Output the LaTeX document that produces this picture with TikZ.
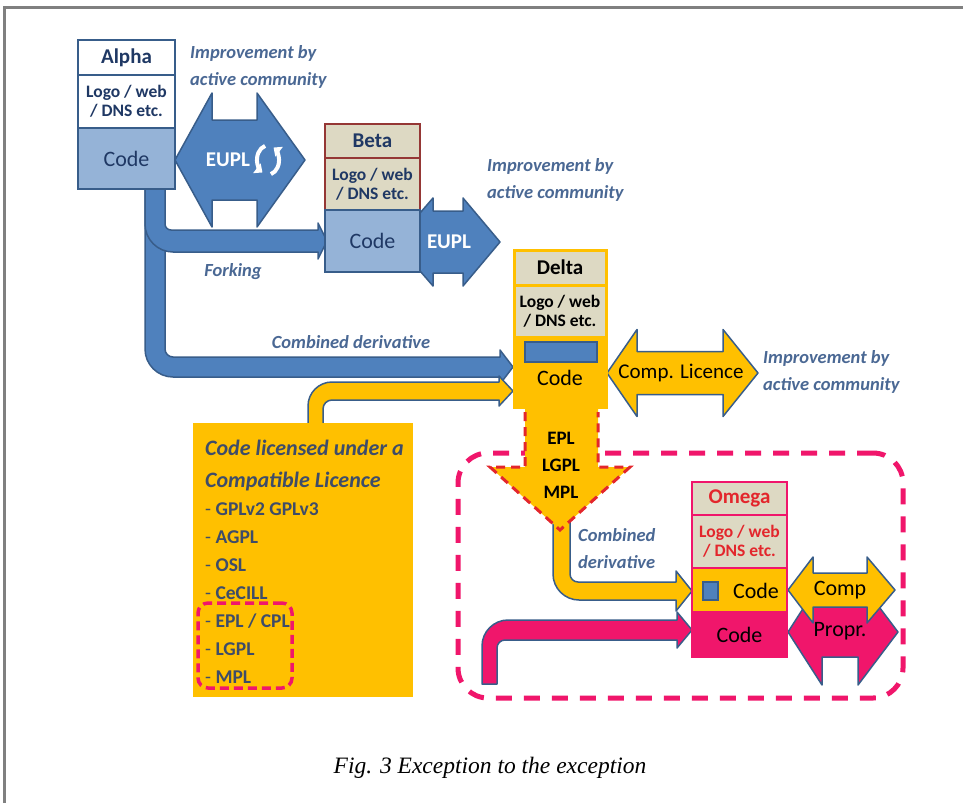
\documentclass[tikz,border=0pt]{standalone}
\usepackage{fontspec}
\setmainfont{Carlito}
\newfontfamily\capfont{Liberation Serif}
\usetikzlibrary{arrows.meta}
\definecolor{bfill}{HTML}{4F81BD}
\definecolor{bline}{HTML}{385D8A}
\definecolor{lblue}{HTML}{95B3D7}
\definecolor{tanc}{HTML}{DDD9C3}
\definecolor{gold}{HTML}{FFC000}
\definecolor{pinkc}{HTML}{F0166B}
\definecolor{redd}{HTML}{E3262C}
\definecolor{dred}{HTML}{953735}
\definecolor{dblue}{HTML}{1F3864}
\definecolor{imprc}{HTML}{4A6894}
\definecolor{slate}{HTML}{3E4C69}
\definecolor{framec}{HTML}{808080}
% #1 style, #2 left tip, #3 left head base, #4 right head base, #5 right tip, #6 centre y, #7 shaft half, #8 head half
\newcommand\dblarr[8][]{%
 \filldraw[#1] (#2,#6) -- (#3,{#6-#8}) -- (#3,{#6-#7}) -- (#4,{#6-#7}) -- (#4,{#6-#8}) -- (#5,#6)
   -- (#4,{#6+#8}) -- (#4,{#6+#7}) -- (#3,{#6+#7}) -- (#3,{#6+#8}) -- cycle;}
\begin{document}
\begin{tikzpicture}[x=1pt,y=-1pt,
  cell/.style={draw, line width=2pt, inner sep=0pt, outer sep=0pt, anchor=north west, align=center},
  ttl/.style={font=\fontsize{21}{24}\selectfont\bfseries},
  logo/.style={font=\fontsize{17.5}{19}\selectfont\bfseries},
  codet/.style={font=\fontsize{22}{26}\selectfont},
  imprt/.style={font=\fontsize{18.5}{27}\selectfont\bfseries\itshape, text=imprc, align=left, inner sep=0pt},
  barrow/.style={fill=bfill, draw=bline, line width=1.5pt, line join=round},
  oarrow/.style={fill=gold, draw=bline, line width=1.5pt, line join=round},
  parrow/.style={fill=pinkc, draw=bline, line width=1.5pt, line join=round},
  lst/.style={font=\fontsize{19.5}{24}\selectfont\bfseries, text=slate, anchor=base west, inner sep=0pt},
  lsttl/.style={font=\fontsize{22}{26}\selectfont\bfseries\itshape, text=slate, anchor=base west, inner sep=0pt},
  lbl/.style={inner sep=0pt},
  cyc/.style={white, line width=4pt, -{Triangle[length=7pt,width=12pt]}},
]
\useasboundingbox (0,0) rectangle (963,803);
\fill[white] (0,0) rectangle (963,803);
% frame
\draw[framec, line width=3pt] (4.5,803) -- (4.5,7) -- (963,7);

% big pink dashed group
\node (grp) [draw=pinkc, line width=5pt, dash pattern=on 16pt off 12pt, rounded corners=30pt,
  minimum width=445pt, minimum height=245pt, inner sep=0pt] at (680.5,575.5) {};

% blue bent arrows
\filldraw[barrow] (145,186) -- (145,349) .. controls (145,364.4) and (157.6,377) .. (173,377) -- (500,377) -- (500,384)
  -- (513,367) -- (500,350) -- (500,357) -- (173,357) .. controls (168.6,357) and (165,353.4) .. (165,349) -- (165,186) -- cycle;
\filldraw[barrow] (145,186) -- (145,224) .. controls (145,239.4) and (157.6,252) .. (173,252) -- (318,252) -- (318,259)
  -- (327,241) -- (318,223) -- (318,230) -- (171,230) .. controls (167.7,230) and (165,227.3) .. (165,224) -- (165,186) -- cycle;

% EUPL double arrows
\dblarr[barrow]{175}{212}{257}{305}{160}{40}{67}
\dblarr[barrow]{395}{433}{463}{500}{242}{31}{44}

% orange arrow from licence box to Delta
\filldraw[oarrow] (308,426) -- (308,406) .. controls (308,392.8) and (318.8,382) .. (332,382) -- (499,382) -- (499,376)
  -- (513,391) -- (499,406) -- (499,400) -- (332,400) .. controls (327,400) and (323,404) .. (323,409) -- (323,426) -- cycle;
\node (lic) [fill=gold, inner sep=0pt, anchor=north west, minimum width=220pt, minimum height=274pt] at (193,423) {};

% Comp. Licence double arrow
\dblarr[oarrow]{607}{637}{723}{758}{373}{21.5}{43.5}

% orange arrow to Omega
\filldraw[oarrow] (553,512) -- (553,574) .. controls (553,588.3) and (564.7,600) .. (579,600) -- (676,600) -- (676,611)
  -- (692,591) -- (676,571) -- (676,582) -- (578,582) .. controls (573.6,582) and (570,578.4) .. (570,574) -- (570,512) -- cycle;

% down arrow EPL
\fill[gold] (525,405) -- (525,467) -- (490,467) -- (560,530) -- (630,467) -- (598,467) -- (598,405) -- cycle;
\draw[redd, line width=3pt, dash pattern=on 9pt off 6pt] (525,412) -- (525,467) -- (490,467) -- (560,530) -- (630,467) -- (598,467) -- (598,412);

% pink arrow to Omega
\filldraw[parrow] (482,684) -- (482,646) .. controls (482,631.7) and (493.7,620) .. (508,620) -- (677,620) -- (677,612)
  -- (692,630) -- (677,648) -- (677,640) -- (505,640) .. controls (500.6,640) and (497,643.6) .. (497,648) -- (497,684) -- cycle;

% Propr. and Comp double arrows
\dblarr[parrow]{788}{822}{858}{898}{632}{25}{53}
\dblarr[oarrow]{788}{813}{867}{895}{590}{17}{33}

% Alpha
\node (alphaT) [cell, draw=bline, fill=white, minimum width=97pt, minimum height=35pt, ttl, text=dblue] at (78,40) {Alpha};
\node (alphaL) [cell, draw=bline, fill=white, minimum width=97pt, minimum height=53pt, logo, text=dblue] at (78,75) {Logo / web\\/ DNS etc.};
\node (alphaC) [cell, draw=bline, fill=lblue, minimum width=97pt, minimum height=61pt, codet, text=dblue] at (78,128) {Code};

% Beta
\node (betaT) [cell, draw=dred, fill=tanc, minimum width=95pt, minimum height=34pt, ttl, text=dblue] at (325,124) {Beta};
\node (betaL) [cell, draw=dred, fill=tanc, minimum width=95pt, minimum height=52pt, logo, text=dblue] at (325,158) {Logo / web\\/ DNS etc.};
\node (betaC) [cell, draw=bline, fill=lblue, minimum width=95pt, minimum height=62pt, codet, text=dblue] at (325,210) {Code};

% Delta
\node (deltaT) [cell, draw=gold, line width=3pt, fill=tanc, minimum width=92pt, minimum height=35pt, ttl] at (514,250) {Delta};
\node (deltaL) [cell, draw=gold, line width=3pt, fill=tanc, minimum width=92pt, minimum height=52pt, logo] at (514,285) {Logo / web\\/ DNS etc.};
\node (deltaC) [cell, draw=gold, line width=3pt, fill=gold, minimum width=92pt, minimum height=70pt] at (514,337) {};
\node (deltaB) [cell, draw=bline, line width=1.5pt, fill=bfill, minimum width=72pt, minimum height=20pt] at (525,342) {};
\node (deltaCode) [lbl, codet] at (560,378) {Code};

% Omega
\node (omegaT) [cell, draw=pinkc, fill=tanc, minimum width=95pt, minimum height=33pt, ttl, text=redd] at (692,482) {Omega};
\node (omegaL) [cell, draw=pinkc, fill=tanc, minimum width=95pt, minimum height=53pt, logo, text=redd] at (692,515) {Logo / web\\/ DNS etc.};
\node (omegaC) [cell, draw=pinkc, fill=gold, minimum width=95pt, minimum height=44pt] at (692,568) {};
\node (omegaP) [cell, draw=pinkc, fill=pinkc, minimum width=95pt, minimum height=45pt, codet] at (692,612) {Code};
\node (omegaB) [cell, draw=bline, line width=1.5pt, fill=bfill, minimum width=15pt, minimum height=18pt] at (703,582) {};
\node (omegaCode) [lbl, codet] at (756,591) {Code};

% arrow labels
\node (eupla) [lbl, font=\fontsize{21}{24}\selectfont\bfseries, text=white] at (228,160) {EUPL};
\draw[cyc] (265.1,145.9) arc[start angle=105, end angle=240, x radius=11pt, y radius=14.5pt];
\draw[cyc] (270.9,174.1) arc[start angle=-75, end angle=60, x radius=11pt, y radius=14.5pt];
\node (euplb) [lbl, font=\fontsize{21}{24}\selectfont\bfseries, text=white] at (449,242) {EUPL};
\node (compl) [lbl, font=\fontsize{21}{24}\selectfont] at (681,373) {Comp. Licence};
\node (comp) [lbl, font=\fontsize{22}{24}\selectfont] at (840,590) {Comp};
\node (propr) [lbl, font=\fontsize{22}{24}\selectfont] at (840,631) {Propr.};
\node (epl) [lbl, font=\fontsize{19}{27}\selectfont\bfseries, align=center] at (561,465) {EPL\\LGPL\\MPL};

% italic labels
\node (imprA) [imprt, anchor=west] at (190,67) {Improvement by\\active community};
\node (imprB) [imprt, anchor=west] at (487,180) {Improvement by\\active community};
\node (imprD) [imprt, anchor=west] at (763,372) {Improvement by\\active community};
\node (forking) [imprt] at (233,272) {Forking};
\node (combA) [imprt] at (351,342) {Combined derivative};
\node (combB) [imprt, anchor=west] at (578,549) {Combined\\derivative};

% licence box text
\node (lt1) [lsttl] at (205,455) {Code licensed under a};
\node (lt2) [lsttl] at (205,487) {Compatible Licence};
\node (l1) [lst] at (205,515) {{\mdseries -} GPLv2 GPLv3};
\node (l2) [lst] at (205,543) {{\mdseries -} AGPL};
\node (l3) [lst] at (205,571) {{\mdseries -} OSL};
\node (l4) [lst] at (205,599) {{\mdseries -} CeCILL};
\node (l5) [lst] at (205,627) {{\mdseries -} EPL / CPL};
\node (l6) [lst] at (205,655) {{\mdseries -} LGPL};
\node (l7) [lst] at (205,683) {{\mdseries -} MPL};
\node (hl) [draw=pinkc, line width=3.5pt, dash pattern=on 9pt off 5pt, rounded corners=10pt,
  minimum width=94pt, minimum height=85pt, inner sep=0pt] at (245,645.5) {};

% caption
\node (cap) [lbl, font=\capfont\itshape\fontsize{23.5}{26}\selectfont, anchor=base] at (490,773) {Fig. 3 Exception to the exception};
\end{tikzpicture}
\end{document}
